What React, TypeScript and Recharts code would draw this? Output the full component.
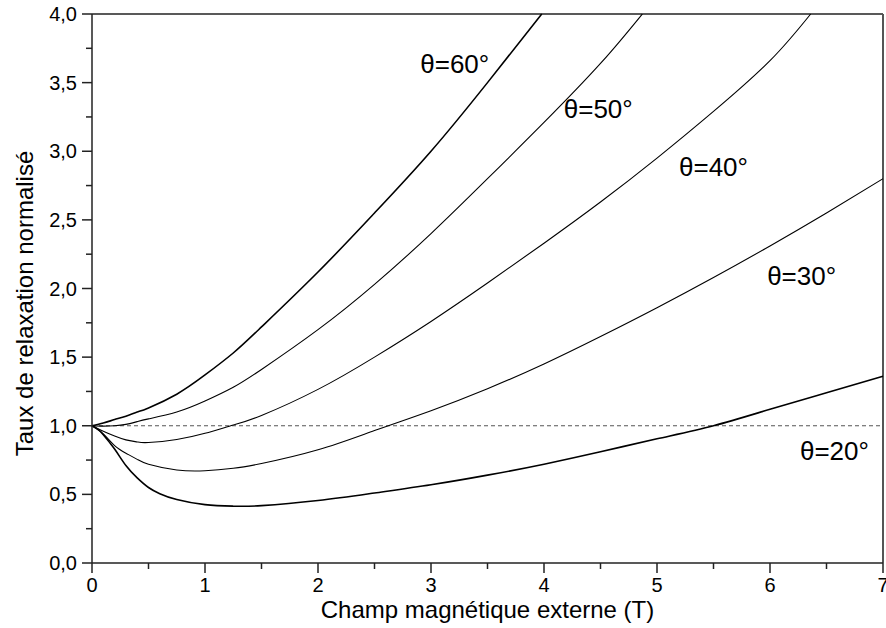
import React from "react";
import {
  LineChart,
  Line,
  XAxis,
  YAxis,
  ReferenceLine,
  ReferenceDot,
} from "recharts";

const FONT = "Arial, 'Liberation Sans', sans-serif";

// field (T) and normalised rate, one pair of arrays per angle
const field20 = [0, 0.05, 0.1, 0.2, 0.3, 0.4, 0.5, 0.6, 0.75, 1, 1.25, 1.5, 2, 2.5, 3, 3.5, 4, 4.5, 5, 5.5, 6, 6.5, 7];
const rate20 = [1, 0.975, 0.935, 0.83, 0.71, 0.62, 0.55, 0.505, 0.462, 0.425, 0.414, 0.418, 0.455, 0.51, 0.57, 0.64, 0.72, 0.81, 0.905, 1.0, 1.12, 1.24, 1.36];

const field30 = [0, 0.1, 0.2, 0.3, 0.4, 0.5, 0.75, 1, 1.25, 1.5, 2, 2.5, 3, 3.5, 4, 4.5, 5, 5.5, 6, 6.5, 7];
const rate30 = [1, 0.94, 0.855, 0.8, 0.755, 0.72, 0.678, 0.672, 0.69, 0.725, 0.825, 0.965, 1.11, 1.27, 1.45, 1.65, 1.86, 2.08, 2.31, 2.55, 2.8];

const field40 = [0, 0.1, 0.2, 0.3, 0.4, 0.5, 0.75, 1, 1.25, 1.5, 2, 2.5, 3, 3.5, 4, 4.5, 5, 5.5, 6, 6.36];
const rate40 = [1, 0.96, 0.925, 0.897, 0.882, 0.878, 0.9, 0.945, 1.005, 1.075, 1.265, 1.5, 1.76, 2.04, 2.33, 2.63, 2.95, 3.29, 3.66, 4.0];

const field50 = [0, 0.1, 0.2, 0.3, 0.4, 0.5, 0.75, 1, 1.25, 1.5, 2, 2.5, 3, 3.5, 4, 4.5, 4.87];
const rate50 = [1, 0.997, 1.0, 1.01, 1.03, 1.05, 1.1, 1.18, 1.28, 1.41, 1.7, 2.03, 2.4, 2.8, 3.21, 3.64, 4.0];

const field60 = [0, 0.1, 0.2, 0.3, 0.4, 0.5, 0.75, 1, 1.25, 1.5, 2, 2.5, 3, 3.5, 3.98];
const rate60 = [1, 1.02, 1.045, 1.07, 1.1, 1.13, 1.23, 1.37, 1.53, 1.72, 2.12, 2.55, 3.0, 3.5, 4.0];

// curve annotations (data coords of text centre)
const labelText = ["θ=60°", "θ=50°", "θ=40°", "θ=30°", "θ=20°"];
const labelT = [3.21, 4.48, 5.5, 6.28, 6.57];
const labelR = [3.64, 3.31, 2.885, 2.09, 0.815];

const xTicks = [0, 0.5, 1, 1.5, 2, 2.5, 3, 3.5, 4, 4.5, 5, 5.5, 6, 6.5, 7];
const yTicks = [0, 0.25, 0.5, 0.75, 1, 1.25, 1.5, 1.75, 2, 2.25, 2.5, 2.75, 3, 3.25, 3.5, 3.75, 4];

const toRows = (t: number[], r: number[]) => t.map((v, i) => ({ t: v, r: r[i] }));

const curves = [
  { key: "60", data: toRows(field60, rate60), width: 1.6 },
  { key: "50", data: toRows(field50, rate50), width: 1.1 },
  { key: "40", data: toRows(field40, rate40), width: 1.1 },
  { key: "30", data: toRows(field30, rate30), width: 1.1 },
  { key: "20", data: toRows(field20, rate20), width: 1.6 },
];

const XTick = (props: any) => {
  const { x, y, payload } = props;
  const v = payload.value;
  const major = Number.isInteger(v);
  return (
    <g>
      <line x1={x} x2={x} y1={y - 10} y2={major ? y : y - 4} stroke="#222" strokeWidth={1.5} />
      {major && (
        <text x={x} y={y + 19} textAnchor="middle" fontSize={20} fontFamily={FONT} fill="#000">
          {v}
        </text>
      )}
    </g>
  );
};

const YTick = (props: any) => {
  const { x, y, payload } = props;
  const v = payload.value;
  const major = Number.isInteger(v * 2);
  return (
    <g>
      <line x1={major ? x : x + 4} x2={x + 10} y1={y} y2={y} stroke="#222" strokeWidth={1.5} />
      {major && (
        <text x={x - 5} y={y + 7} textAnchor="end" fontSize={20} fontFamily={FONT} fill="#000">
          {v.toFixed(1).replace(".", ",")}
        </text>
      )}
    </g>
  );
};

const YTitle = (props: any) => {
  const vb = props.viewBox || { x: 0, y: 14, width: 92, height: 549 };
  const x = vb.x + 33;
  const y = vb.y + vb.height / 2 + 15;
  return (
    <text x={x} y={y} transform={`rotate(-90 ${x} ${y})`} textAnchor="middle" fontSize={24} fontFamily={FONT} fill="#000">
      Taux de relaxation normalisé
    </text>
  );
};

export default function App() {
  return (
    <div style={{ position: "absolute", left: 0, top: 0, background: "#fff" }}>
      <LineChart width={886} height={628} margin={{ top: 14, right: 3, bottom: 0, left: 0 }}>
        <XAxis
          dataKey="t"
          type="number"
          domain={[0, 7]}
          ticks={xTicks}
          interval={0}
          height={65}
          tickSize={10}
          tickMargin={0}
          tickLine={false}
          tick={<XTick />}
          axisLine={{ stroke: "#222", strokeWidth: 1.5 }}
          label={{
            value: "Champ magnétique externe (T)",
            position: "insideBottom",
            offset: 10,
            fontSize: 24,
            fontFamily: FONT,
            fill: "#000",
          }}
        />
        <YAxis
          type="number"
          domain={[0, 4]}
          ticks={yTicks}
          interval={0}
          width={92}
          tickSize={10}
          tickMargin={0}
          tickLine={false}
          tick={<YTick />}
          axisLine={{ stroke: "#222", strokeWidth: 1.5 }}
          label={<YTitle />}
        />
        <ReferenceLine y={4} stroke="#222" strokeWidth={1.5} />
        <ReferenceLine x={7} stroke="#555" strokeWidth={2} />
        <ReferenceLine y={1} stroke="#555" strokeWidth={1} strokeDasharray="4 3" />
        {curves.map((c) => (
          <Line
            key={c.key}
            data={c.data}
            dataKey="r"
            type="natural"
            stroke="#000"
            strokeWidth={c.width}
            dot={false}
            activeDot={false}
            isAnimationActive={false}
          />
        ))}
        {labelText.map((txt, i) => (
          <ReferenceDot
            key={txt}
            x={labelT[i]}
            y={labelR[i]}
            r={0}
            fill="none"
            stroke="none"
            label={{ value: txt, position: "center", fontSize: 26, fontFamily: FONT, fill: "#000" }}
          />
        ))}
      </LineChart>
    </div>
  );
}
